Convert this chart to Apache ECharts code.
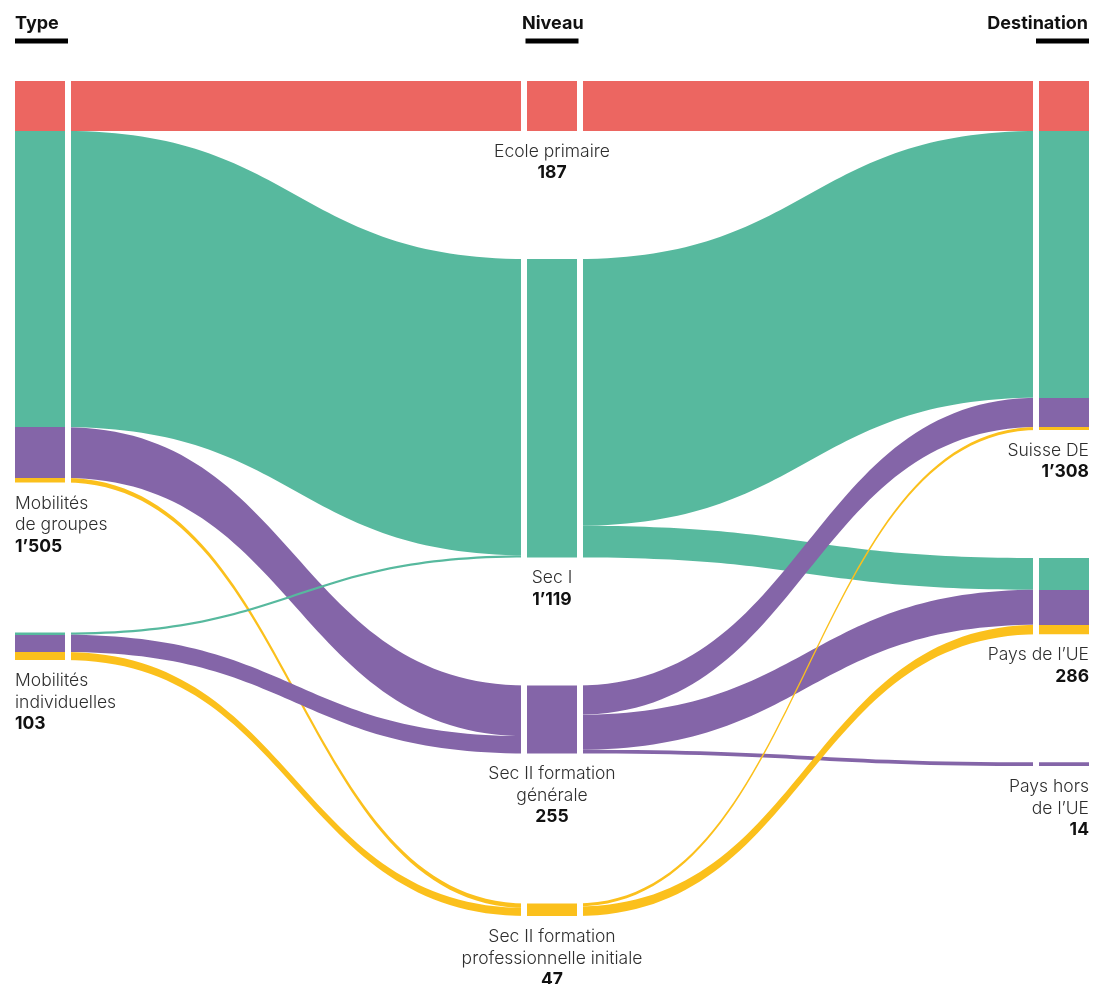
<!DOCTYPE html>
<html>
<head>
<meta charset="utf-8">
<script src="https://cdn.jsdelivr.net/npm/echarts@6/dist/echarts.min.js"></script>
<style>
  html, body { margin: 0; padding: 0; background: #fff; }
  #chart { width: 1093px; height: 984px; }
</style>
</head>
<body>
<div id="chart"></div>
<script>
// --- data ---
const types = ["Mobilités de groupes", "Mobilités individuelles"];
const typeLabels = ["Mobilités\nde groupes", "Mobilités\nindividuelles"];

const levels = ["Ecole primaire", "Sec I", "Sec II formation générale", "Sec II formation professionnelle initiale"];
const levelLabels = ["Ecole primaire", "Sec I", "Sec II formation\ngénérale", "Sec II formation\nprofessionnelle initiale"];
const levelColors = ["#ec6661", "#57b99e", "#8465a8", "#fbc01c"];

const destinations = ["Suisse DE", "Pays de l’UE", "Pays hors de l’UE"];
const destLabels = ["Suisse DE", "Pays de l’UE", "Pays hors\nde l’UE"];

// type -> niveau (one value per niveau)
const groupesToLevel = [187, 1111, 190, 17];
const individuellesToLevel = [0, 8, 65, 30];
// niveau -> destination (one value per destination)
const primaireToDest = [187, 0, 0];
const secIToDest = [1000, 119, 0];
const secIIGenToDest = [110, 131, 14];
const secIIProToDest = [11, 36, 0];

const typeFlows = [groupesToLevel, individuellesToLevel];
const levelFlows = [primaireToDest, secIToDest, secIIGenToDest, secIIProToDest];

// --- layout ---
const TOP = 81, LEFT = 15, WIDTH = 1074, H = 429, NODE_W = 50;
const GAP = 6;          // white gap between node and ribbon
const LINE_H = 21.5;
const BASE_GAP = 128;   // space between nodes with a two line label
const FONT = "Inter, Roboto, sans-serif";

const sum = (a) => a.reduce((s, v) => s + v, 0);
const total = sum(typeFlows.map(sum));
const ky = H / total; // what echarts uses with nodeGap 0

const typeValues = typeFlows.map(sum);
const levelValues = levels.map((_, i) => sum(levelFlows[i]));
const destValues = destinations.map((_, j) => sum(levelFlows.map((r) => r[j])));

function stackColumn(labels, values) {
  let y = 0;
  return values.map((v, i) => {
    const ly = y / H;
    const lines = labels[i].split("\n").length + 1;
    y += v * ky + BASE_GAP + (lines - 2) * 22;
    return ly;
  });
}

function segmented(parts, colors) {
  const tot = sum(parts);
  const stops = [];
  let acc = 0;
  parts.forEach((v, i) => {
    if (!v) return;
    stops.push({ offset: acc / tot, color: colors[i] });
    acc += v;
    stops.push({ offset: acc / tot, color: colors[i] });
  });
  return new echarts.graphic.LinearGradient(0, 0, 0, 1, stops);
}

const span = (WIDTH - NODE_W) / 2 - NODE_W;
const f = GAP / span;
const clear = "rgba(255,255,255,0)";
function ribbon(c) {
  return new echarts.graphic.LinearGradient(0, 0, 1, 0, [
    { offset: 0, color: clear }, { offset: f, color: clear },
    { offset: f, color: c }, { offset: 1 - f, color: c },
    { offset: 1 - f, color: clear }, { offset: 1, color: clear }
  ]);
}

const fmt = (v) => String(Math.round(v)).replace(/\B(?=(\d{3})+(?!\d))/g, "’");
const labelText = (lbl, v) =>
  lbl.split("\n").map((s) => "{n|" + s + "}").join("\n") + "\n{v|" + fmt(v) + "}";

const rich = {
  n: { fontFamily: FONT, fontWeight: 300, fontSize: 17.5, lineHeight: LINE_H, color: "#2e2e2e" },
  v: { fontFamily: FONT, fontWeight: "bold", fontSize: 17.5, lineHeight: LINE_H, color: "#111" }
};

const nodes = [];
const typeY = stackColumn(typeLabels, typeValues);
types.forEach((n, i) => {
  nodes.push({
    name: n, localY: typeY[i],
    itemStyle: { color: segmented(typeFlows[i], levelColors) },
    label: { position: [0, "100%"], offset: [0, 10], align: "left", verticalAlign: "top",
      formatter: labelText(typeLabels[i], typeValues[i]), rich: rich }
  });
});
const levelY = stackColumn(levelLabels, levelValues);
levels.forEach((n, i) => {
  nodes.push({
    name: n, localY: levelY[i],
    itemStyle: { color: levelColors[i] },
    label: { position: "bottom", distance: 10, align: "center",
      formatter: labelText(levelLabels[i], levelValues[i]), rich: rich }
  });
});
const destY = stackColumn(destLabels, destValues);
destinations.forEach((n, j) => {
  nodes.push({
    name: n, localY: destY[j],
    itemStyle: { color: segmented(levelFlows.map((r) => r[j]), levelColors) },
    label: { position: ["100%", "100%"], offset: [0, 10], align: "right", verticalAlign: "top",
      formatter: labelText(destLabels[j], destValues[j]), rich: rich }
  });
});

const links = [];
typeFlows.forEach((row, i) => row.forEach((v, k) => {
  if (v) links.push({ source: types[i], target: levels[k], value: v, lineStyle: { color: ribbon(levelColors[k]) } });
}));
levelFlows.forEach((row, k) => row.forEach((v, j) => {
  if (v) links.push({ source: levels[k], target: destinations[j], value: v, lineStyle: { color: ribbon(levelColors[k]) } });
}));

const hdr = { fontFamily: FONT, fontWeight: "bold", fontSize: 18, lineHeight: 18, color: "#111" };

const chart = echarts.init(document.getElementById("chart"));
chart.setOption({
  animation: false,
  backgroundColor: "#fff",
  title: [
    { text: "Type", left: 15, top: 15, padding: 0, textStyle: hdr },
    { text: "Niveau", left: 522, top: 15, padding: 0, textStyle: hdr },
    { text: "Destination", right: 5, top: 15, padding: 0, textStyle: hdr }
  ],
  graphic: [
    { type: "rect", shape: { x: 15, y: 38.5, width: 53, height: 5 }, style: { fill: "#000" } },
    { type: "rect", shape: { x: 525.5, y: 38.5, width: 53, height: 5 }, style: { fill: "#000" } },
    { type: "rect", shape: { x: 1036, y: 38.5, width: 53, height: 5 }, style: { fill: "#000" } }
  ],
  series: [{
    type: "sankey",
    left: LEFT, top: TOP, width: WIDTH, height: H,
    nodeWidth: NODE_W, nodeGap: 0, layoutIterations: 0,
    nodeAlign: "justify", draggable: false, silent: true,
    data: nodes,
    links: links,
    lineStyle: { opacity: 1, curveness: 0.5 },
    emphasis: { disabled: true }
  }]
});
</script>
</body>
</html>
